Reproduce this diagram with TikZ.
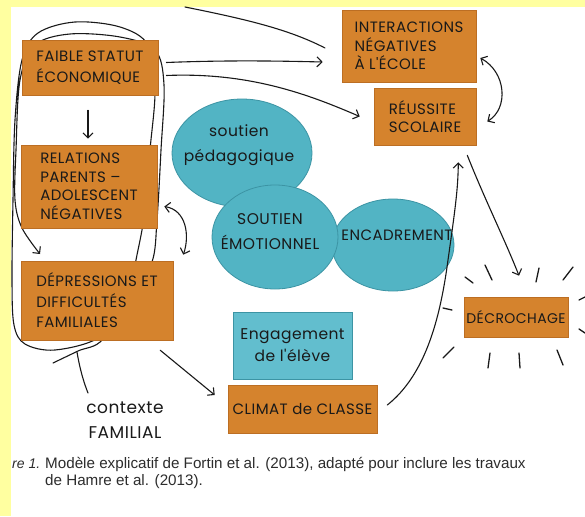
\documentclass[tikz,border=0pt]{standalone}
\usepackage{fontspec}
\setmainfont{Poppins}
\newfontfamily\handfont[LetterSpace=3]{Poppins}
\newfontfamily\capfont{Liberation Sans}
\usetikzlibrary{shapes.geometric,arrows.meta,calc}
\definecolor{ybg}{RGB}{255,255,160}
\definecolor{onote}{RGB}{213,131,45}
\definecolor{oedge}{RGB}{188,110,35}
\definecolor{blobc}{RGB}{82,180,196}
\definecolor{blobedge}{RGB}{60,148,164}
\definecolor{engc}{RGB}{98,190,206}
\definecolor{ink}{RGB}{25,25,25}
\definecolor{capink}{RGB}{45,45,45}
\newcommand\handtext{\handfont\fontsize{15}{18.5}\selectfont}
\newcommand\blobtext{\handfont\fontsize{15.5}{25}\selectfont}
\begin{document}
\begin{tikzpicture}[x=1pt,y=-1pt,
  note/.style={fill=onote, draw=oedge, line width=0.6pt, inner sep=0pt, align=left, text=ink, font=\handtext},
  blob/.style={ellipse, fill=blobc, draw=blobedge, line width=0.8pt, inner sep=0pt},
  btext/.style={align=center, text=ink, font=\blobtext, inner sep=0pt},
  line/.style={draw=ink, line width=1.1pt, line cap=round},
  arr/.style={line, -{Straight Barb[length=5pt,width=10pt]}},
  arrb/.style={line, {Straight Barb[length=5pt,width=10pt]}-{Straight Barb[length=5pt,width=10pt]}},
  ray/.style={draw=ink, line width=1.3pt, line cap=round},
  captext/.style={anchor=base west, inner sep=0pt, text=capink, font=\capfont\fontsize{15.2}{17}\selectfont}]
\useasboundingbox (0,0) rectangle (585,516);
\fill[white] (0,0) rectangle (585,516);
\fill[ybg] (0,0) rectangle (585,7);
\fill[ybg] (0,0) rectangle (11,516);

% family context loop
\draw[line, -{Straight Barb[length=5pt,width=10pt]}] plot[smooth, tension=0.55] coordinates {
 (53,363) (78,351) (103,339) (128,290) (138,250) (145,210) (150,150) (155,90) (148,45) (120,27) (75,22) (38,33) (22,60) (15,120) (13,200) (12,280) (14,325) (25,344) (55,350) (100,337) (130,300) (152,262) (157,220) (161,150) (164,85) (155,50) (120,37) (70,34) (35,45) (20,80) (16,150) (15,200) (22,228) (40,254)};
\coordinate (ctxtail) at (88,393);
\draw[line] (77,352) .. controls (80,370) and (84,383) .. (ctxtail);
\draw[line] (185,7) .. controls (250,20) and (290,30) .. (325,48);

% blobs
\node[blob, minimum width=140pt, minimum height=108pt] (ped) at (242,153) {};
\node[blob, minimum width=122pt, minimum height=92pt] (enc) at (393,245) {};
\node[blob, minimum width=126pt, minimum height=104pt] (emo) at (275,237) {};
\node[btext] (pedt) at (239,145) {soutien\\pédagogique};
\node[btext] (emot) at (270,232) {SOUTIEN\\ÉMOTIONNEL};
\node[btext, font=\handtext] (enct) at (397,235) {ENCADREMENT};

% notes
\node[note, minimum width=136pt, minimum height=55pt] (faible) at (90,67.5) {FAIBLE STATUT\\[3pt]ÉCONOMIQUE};
\node[note, minimum width=136pt, minimum height=83pt] (relations) at (89,186.5) {RELATIONS\\PARENTS –\\ADOLESCENT\\NÉGATIVES};
\node[note, minimum width=152pt, minimum height=79pt] (depressions) at (97,300.5) {DÉPRESSIONS ET\\[2pt]DIFFICULTÉS\\[2pt]FAMILIALES};
\node[note, minimum width=134pt, minimum height=72pt] (inter) at (409,46) {INTERACTIONS\\NÉGATIVES\\À L'ÉCOLE};
\node[note, minimum width=102pt, minimum height=57pt] (reussite) at (425,116.5) {RÉUSSITE\\SCOLAIRE};
\node[note, minimum width=104pt, minimum height=40pt, font=\handfont\fontsize{14}{16}\selectfont] (decro) at (516,317) {DÉCROCHAGE};
\node[note, minimum width=149pt, minimum height=48pt] (climat) at (302.5,409) {CLIMAT de CLASSE};
\node[note, fill=engc, draw=blobedge, align=center, font=\handfont\fontsize{15.5}{22}\selectfont, minimum width=119pt, minimum height=67pt] (engage) at (292.5,345.5) {Engagement\\de l'élève};

\node[align=center, text=ink, font=\handfont\fontsize{17}{25}\selectfont, inner sep=0pt] (ctx) at (125,420) {contexte\\FAMILIAL};

% connectors
\draw[arr] ($(faible.south)+(-2,15)$) -- ($(relations.north)+(-1,-6)$);
\draw[arrb] ($(relations.east)+(7,20)$) .. controls (186,210) and (190,235) .. ($(depressions.north east)+(10,-6)$);
\draw[arr] ($(faible.east)+(8,-5)$) .. controls (230,60) and (280,61) .. ($(inter.west)+(-19,16)$);
\draw[arr] ($(faible.east)+(8,8)$) .. controls (250,72) and (310,95) .. ($(reussite.west)+(-14,0)$);
\draw[arrb] ($(inter.east)+(4,12)$) .. controls (506,72) and (509,108) .. ($(reussite.east)+(11,5)$);
\draw[arr] ($(reussite.south east)+(-9,10)$) .. controls (485,200) and (505,240) .. ($(decro.north)+(3,-21)$);
\draw[arr] ($(climat.east)+(10,-4)$) .. controls (425,375) and (440,320) .. (448,260) .. controls (455,210) and (458,190) .. ($(reussite.south east)+(-18,17)$);
\draw[arr] ($(depressions.south east)+(-13,10)$) -- ($(climat.west)+(-13,-14)$);

% rays around decrochage
\foreach \xa/\ya/\xb/\yb in {465/277/473/283, 485/265/492/280, 539/268/536/282, 573/267/563/280,
  585/297/579/300, 579/329/585/333, 443/308/452/310, 454/347/443/358, 490/353/488/368,
  519/353/520/368, 557/350/563/365}
  \draw[ray] (\xa,\ya) -- (\xb,\yb);

% caption
\node[captext, font=\capfont\fontsize{14}{17}\selectfont] (fig) at (12,468) {\textit{re 1.}};
\node[captext] (cap1) at (45,468) {Modèle explicatif de Fortin et al. (2013), adapté pour inclure les travaux};
\node[captext] (cap2) at (45,485) {de Hamre et al. (2013).};
\end{tikzpicture}
\end{document}
